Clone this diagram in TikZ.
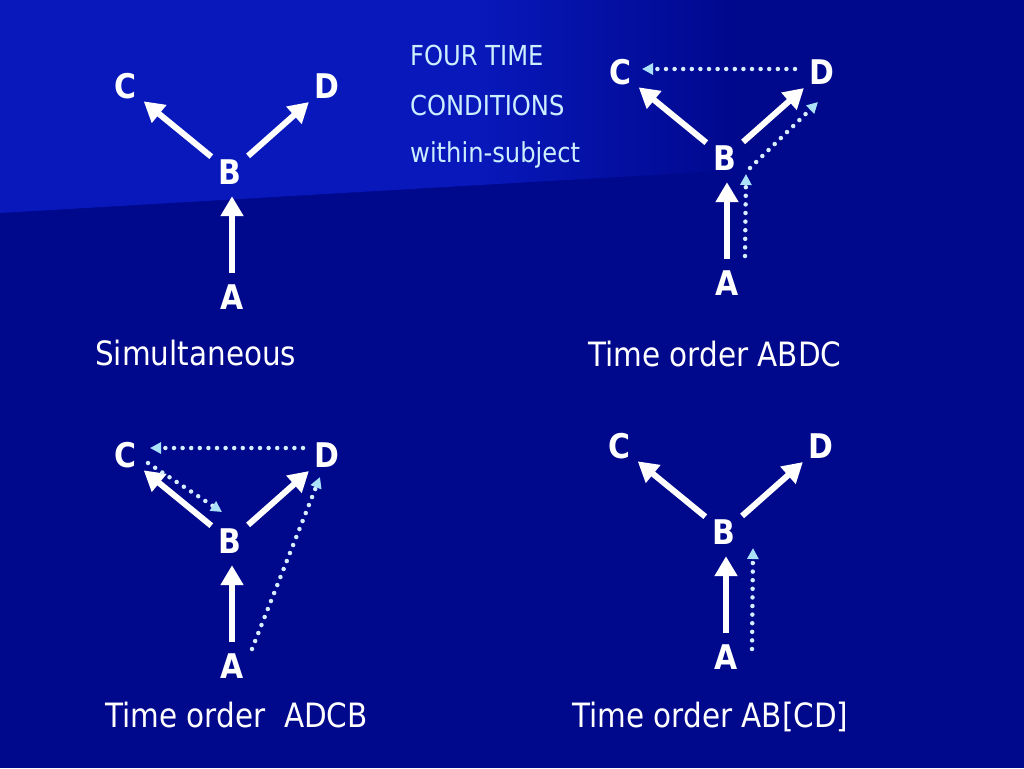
\documentclass[tikz,border=0pt]{standalone}
\usepackage{fontspec}
\setmainfont{DejaVu Sans}[FakeStretch=0.88]
\usepackage{tikz}
\usetikzlibrary{arrows.meta}
\definecolor{bgdark}{RGB}{0,8,140}
\definecolor{bglight}{RGB}{8,24,186}
\definecolor{dotcol}{RGB}{215,236,255}
\definecolor{tipcol}{RGB}{170,225,248}
\definecolor{titlecol}{RGB}{205,238,255}
\begin{document}
\begin{tikzpicture}[x=1pt, y=-1pt,
	lbl/.style={circle, inner sep=0pt, minimum size=48pt, text=white,
		font=\fontsize{34}{34}\selectfont\bfseries},
	l_w/.style={line width=6pt, white, -{Triangle[length=20pt,width=22pt]}},
	l_d/.style={line width=4.5pt, dotcol, line cap=round, dash pattern=on 0pt off 8.6pt,
		-{Triangle[length=11pt,width=11pt,color=tipcol]}},
	txt/.style={anchor=base west, inner sep=0pt, text=white, font=\fontsize{33.5}{36}\selectfont},
	ttl/.style={anchor=base west, inner sep=0pt, text=titlecol, font=\fontsize{27.5}{30}\selectfont}]
	\useasboundingbox (0,0) rectangle (1024,768);
	% background
	\fill[bgdark] (0,0) rectangle (1024,768);
	\fill[bglight] (0,0) -- (480,0) -- (480,185) -- (0,213) -- cycle;
	\shade[left color=bglight, right color=bgdark] (480,0) -- (740,0) -- (740,170) -- (480,185) -- cycle;
	% the four Y graphs
	\foreach \bx/\by [count=\p] in {230/172, 725/158, 230/541, 724/532} {
		\node[lbl] (B\p) at (\bx,\by) {B};
		\node[lbl] (C\p) at (\bx-105,\by-86) {C};
		\node[lbl] (D\p) at (\bx+97,\by-86) {D};
		\node[lbl] (A\p) at (\bx+2,\by+125) {A};
		\draw[l_w] (B\p) -- (C\p);
		\draw[l_w] (B\p) -- (D\p);
		\draw[l_w] (A\p.north) -- (A\p.north |- B\p.south);
	};
	% time order ABDC
	\draw[l_d] ([shift={(-27,-3)}]D2.center) -- ([shift={(22,-3)}]C2.center);
	\draw[l_d] ([shift={(18,-27)}]A2.center) -- ([shift={(21,16)}]B2.center);
	\draw[l_d] ([shift={(25,10)}]B2.center) -- ([shift={(-4,30)}]D2.center);
	% time order ADCB
	\draw[l_d] ([shift={(-24,-7)}]D3.center) -- ([shift={(25,-7)}]C3.center);
	\draw[l_d] ([shift={(23,8)}]C3.center) -- ([shift={(-8,-29)}]B3.center);
	\draw[l_d] ([shift={(20,-17)}]A3.center) -- ([shift={(-7,22)}]D3.center);
	% time order AB[CD]
	\draw[l_d] ([shift={(26,-8)}]A4.center) -- ([shift={(29,16)}]B4.center);
	% captions
	\node[txt] (sim) at (95,365) {Simultaneous};
	\node[txt] (abdc) at (588,366) {Time order ABDC};
	\node[txt] (adcb) at (105,727) {Time order\ \ ADCB};
	\node[txt] (abcd) at (572,727) {Time order AB[CD]};
	\node[ttl] (four) at (410,65) {FOUR TIME};
	\node[ttl] (cond) at (410,115) {CONDITIONS};
	\node[ttl] (within) at (410,162) {within-subject};
\end{tikzpicture}
\end{document}
